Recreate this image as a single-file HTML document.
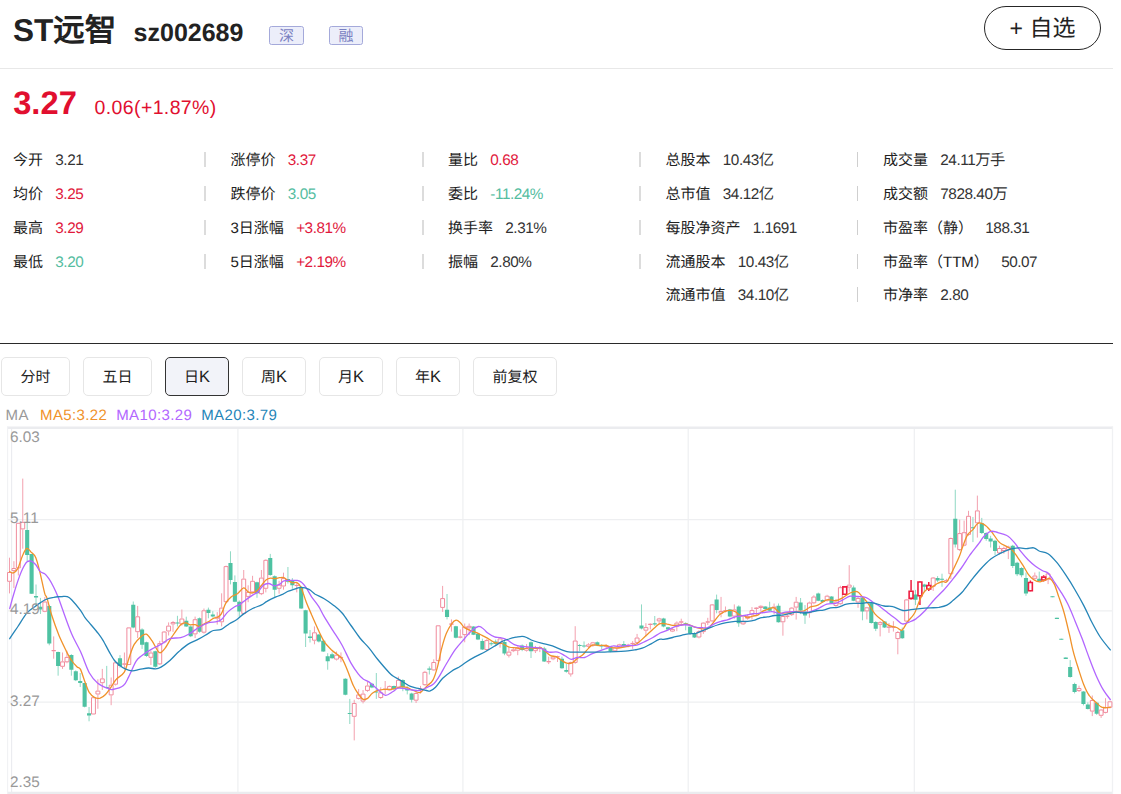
<!DOCTYPE html>
<html lang="zh-CN">
<head>
<meta charset="utf-8">
<title>ST远智 sz002689</title>
<style>
*{margin:0;padding:0;box-sizing:border-box;}
html,body{width:1121px;height:794px;background:#fff;overflow:hidden;}
body{font-family:"Liberation Sans",sans-serif;color:#222;position:relative;text-rendering:geometricPrecision;}
.abs{position:absolute;white-space:nowrap;}
.title{left:13px;top:13.4px;font-size:31.5px;line-height:34px;font-weight:bold;color:#222;}
.code{left:133.6px;top:18.6px;font-size:25px;line-height:28px;font-weight:bold;color:#222;}
.tag{top:26px;height:19px;width:35px;border:1px solid #a4a9da;background:#eceefa;border-radius:2.5px;color:#7b82c2;font-size:15px;line-height:19px;text-align:center;}
.fav{left:984px;top:6px;width:117px;height:44px;border:1px solid #262626;border-radius:22px;font-size:23px;line-height:42px;text-align:center;color:#222;}
.hr1{left:0;top:68px;width:1113px;height:1px;background:#e8e8e8;}
.price{left:13.2px;top:84.8px;font-size:32.7px;line-height:36px;font-weight:bold;color:#e10f2f;}
.chg{left:94.6px;top:96px;font-size:19.5px;letter-spacing:0.37px;line-height:24px;color:#e10f2f;}
.st{font-size:15px;line-height:20px;color:#222;}
.st b{font-weight:normal;margin-left:12.3px;font-size:15.3px;letter-spacing:-0.45px;color:#333;}
.st b.r{color:#e1193c;}
.st b.g{color:#55bd9f;}
.sep{width:1px;height:15px;background:#cfcfcf;}
.sep.w2{width:2px;background:#dcdcdc;}
.hr2{left:0;top:342.6px;width:1113px;height:1.3px;background:#2a2a2a;}
.tab{top:357px;height:39px;border:1px solid #e6e6e6;border-radius:5px;font-size:15px;line-height:38.6px;text-align:center;color:#222;background:#fff;}
.tab.on{border-color:#333;background:#f2f3f9;}
.tab i{font-style:normal;font-size:16.5px;}
.tab.c{line-height:40.6px;}
.ma{top:406px;font-size:15px;letter-spacing:0.38px;line-height:20px;}
svg.chart{position:absolute;left:0;top:420px;font-family:"Liberation Sans",sans-serif;}
</style>
</head>
<body>
<div class="abs title">ST远智</div>
<div class="abs code">sz002689</div>
<div class="abs tag" style="left:269px">深</div>
<div class="abs tag" style="left:329px;width:34px">融</div>
<div class="abs fav">+ 自选</div>
<div class="abs hr1"></div>
<div class="abs price">3.27</div>
<div class="abs chg">0.06(+1.87%)</div>

<!-- column 1 -->
<div class="abs st" style="left:13px;top:151.4px">今开<b>3.21</b></div>
<div class="abs st" style="left:13px;top:184.7px">均价<b class="r">3.25</b></div>
<div class="abs st" style="left:13px;top:218.9px">最高<b class="r">3.29</b></div>
<div class="abs st" style="left:13px;top:252.7px">最低<b class="g">3.20</b></div>
<!-- column 2 -->
<div class="abs sep w2" style="left:204px;top:152px"></div>
<div class="abs sep w2" style="left:204px;top:186px"></div>
<div class="abs sep w2" style="left:204px;top:220px"></div>
<div class="abs sep w2" style="left:204px;top:254px"></div>
<div class="abs st" style="left:230.5px;top:151.4px">涨停价<b class="r">3.37</b></div>
<div class="abs st" style="left:230.5px;top:184.7px">跌停价<b class="g">3.05</b></div>
<div class="abs st" style="left:230.5px;top:218.9px">3日涨幅<b class="r">+3.81%</b></div>
<div class="abs st" style="left:230.5px;top:252.7px">5日涨幅<b class="r">+2.19%</b></div>
<!-- column 3 -->
<div class="abs sep w2" style="left:422px;top:152px"></div>
<div class="abs sep w2" style="left:422px;top:186px"></div>
<div class="abs sep w2" style="left:422px;top:220px"></div>
<div class="abs sep w2" style="left:422px;top:254px"></div>
<div class="abs st" style="left:448px;top:151.4px">量比<b class="r">0.68</b></div>
<div class="abs st" style="left:448px;top:184.7px">委比<b class="g">-11.24%</b></div>
<div class="abs st" style="left:448px;top:218.9px">换手率<b>2.31%</b></div>
<div class="abs st" style="left:448px;top:252.7px">振幅<b>2.80%</b></div>
<!-- column 4 -->
<div class="abs sep w2" style="left:639px;top:152px"></div>
<div class="abs sep w2" style="left:639px;top:186px"></div>
<div class="abs sep w2" style="left:639px;top:220px"></div>
<div class="abs sep w2" style="left:639px;top:254px"></div>
<div class="abs st" style="left:665.5px;top:151.4px">总股本<b>10.43亿</b></div>
<div class="abs st" style="left:665.5px;top:184.7px">总市值<b>34.12亿</b></div>
<div class="abs st" style="left:665.5px;top:218.9px">每股净资产<b>1.1691</b></div>
<div class="abs st" style="left:665.5px;top:252.7px">流通股本<b>10.43亿</b></div>
<div class="abs st" style="left:665.5px;top:285.8px">流通市值<b>34.10亿</b></div>
<!-- column 5 -->
<div class="abs sep" style="left:857px;top:152px"></div>
<div class="abs sep" style="left:857px;top:186px"></div>
<div class="abs sep" style="left:857px;top:220px"></div>
<div class="abs sep" style="left:857px;top:254px"></div>
<div class="abs sep" style="left:857px;top:287px"></div>
<div class="abs st" style="left:883px;top:151.4px">成交量<b>24.11万手</b></div>
<div class="abs st" style="left:883px;top:184.7px">成交额<b>7828.40万</b></div>
<div class="abs st" style="left:883px;top:218.9px">市盈率（静）<b>188.31</b></div>
<div class="abs st" style="left:883px;top:252.7px">市盈率（TTM）<b>50.07</b></div>
<div class="abs st" style="left:883px;top:285.8px">市净率<b>2.80</b></div>

<div class="abs hr2"></div>
<div class="abs tab c" style="left:1px;width:69px">分时</div>
<div class="abs tab c" style="left:83px;width:69px">五日</div>
<div class="abs tab on" style="left:165px;width:64px">日<i>K</i></div>
<div class="abs tab" style="left:242px;width:64px">周<i>K</i></div>
<div class="abs tab" style="left:319px;width:64px">月<i>K</i></div>
<div class="abs tab" style="left:396px;width:64px">年<i>K</i></div>
<div class="abs tab c" style="left:473px;width:84px">前复权</div>

<div class="abs ma" style="left:5.5px;color:#999">MA</div>
<div class="abs ma" style="left:40px;color:#f0922a">MA5:3.22</div>
<div class="abs ma" style="left:116.2px;color:#b266ff">MA10:3.29</div>
<div class="abs ma" style="left:201.2px;color:#2585b8">MA20:3.79</div>

<svg class="chart" width="1121" height="374" viewBox="0 0 1121 374">
<g fill="none" stroke="#eeeff1" stroke-width="1.2">
<path d="M7,99.7H1113"/>
<path d="M7,190.9H1113"/>
<path d="M7,282.2H1113"/>
<path d="M237.9,8V374"/>
<path d="M462.9,8V374"/>
<path d="M688.2,8V374"/>
<path d="M914.3,8V374"/>
</g>
<path d="M7,7.70H1113" stroke="#ebecef" stroke-width="2.6" fill="none"/>
<path d="M7,373.00H1113" stroke="#ebecef" stroke-width="2.6" fill="none"/>
<path d="M7.6,6.40V374.30" stroke="#f1f2f4" stroke-width="1.1" fill="none"/>
<path d="M1112.5,6.40V374.30" stroke="#f0f1f3" stroke-width="1.3" fill="none"/>
<path d="M11.6,8.0V372.0" stroke="#eaecf0" stroke-width="1.1" fill="none"/>
<path d="M27.18,102.8V141.2M31.60,134.1V173.8M36.02,164.5V186.0M40.44,177.9V194.0M49.28,185.0V225.3M58.11,231.6V255.7M71.37,234.2V255.7M75.79,250.3V261.1M80.21,253.0V267.0M84.63,262.9V287.4M89.05,287.0V301.3M106.73,245.9V268.2M119.99,235.1V247.7M133.25,181.5V208.3M142.09,208.3V228.9M146.50,221.7V236.9M155.34,230.7V247.7M177.44,195.8V206.5M186.28,196.7V206.9M190.70,205.5V217.1M199.54,197.5V212.7M208.38,187.6V198.3M212.80,191.2V197.5M230.48,131.3V164.4M234.89,155.4V182.2M239.31,180.5V196.6M256.99,161.7V177.8M270.25,133.9V155.8M274.67,155.4V176.9M287.93,147.0V163.5M292.35,158.1V168.8M301.19,166.1V188.9M305.61,189.8V227.0M310.03,210.0V222.5M318.87,214.1V222.5M323.28,219.8V232.0M327.70,233.2V249.7M332.12,232.4V238.7M345.38,258.3V275.3M349.80,278.9V304.0M371.90,262.8V268.2M376.32,253.0V278.9M394.00,265.5V270.0M402.84,259.2V271.2M407.25,266.4V274.4M411.67,272.7V282.5M429.35,246.4V254.5M447.03,174.0V199.4M455.87,205.8V218.4M473.55,206.2V215.1M477.97,213.0V220.1M482.39,218.7V230.0M491.23,221.4V225.9M495.65,219.6V225.0M504.48,219.6V235.2M522.16,224.4V231.2M531.00,221.4V238.0M544.26,226.8V242.0M561.94,236.6V248.8M566.36,243.8V252.7M579.62,224.1V231.2M584.04,221.4V227.7M597.29,221.4V226.2M601.71,224.1V229.4M610.55,225.9V232.2M623.81,221.1V227.0M641.49,184.4V209.4M654.75,196.0V205.9M663.59,197.8V207.3M668.01,206.8V210.3M685.68,202.3V210.3M690.10,205.0V214.8M694.52,212.1V218.0M716.62,174.6V193.3M729.88,188.9V197.3M738.72,185.3V206.8M765.23,186.2V190.7M769.65,181.7V191.6M778.49,183.5V202.6M800.59,178.0V194.1M805.01,185.1V203.9M818.27,172.6V181.2M822.69,179.4V182.5M831.53,176.2V183.7M853.62,165.5V181.2M862.46,176.2V200.3M871.30,182.5V203.6M875.72,201.2V211.1M884.56,201.2V208.0M902.24,207.5V218.8M915.50,169.9V185.1M924.34,163.8V171.6M937.60,156.1V162.0M942.01,153.7V166.8M955.27,69.7V127.5M972.95,97.0V122.1M981.79,97.9V114.0M986.21,112.2V120.8M990.63,115.8V127.5M995.05,119.8V135.1M1012.73,124.8V148.0M1017.15,141.8V156.1M1021.57,147.1V157.3M1025.99,152.5V175.8M1039.24,151.6V161.4M1052.50,176.3V177.2M1056.92,197.7V199.0M1061.34,218.7V219.7M1065.76,237.4V238.9M1070.18,240.1V257.7M1074.60,262.7V273.4M1083.44,271.1V285.4M1087.86,282.3V289.5M1096.70,281.8V294.9" stroke="#8fd9c4" stroke-width="1" fill="none"/>
<path d="M25.13,109.9h4.10V135.0h-4.10zM29.55,134.1h4.10V173.8h-4.10zM33.97,176.1h4.10V177.4h-4.10zM38.39,186.8h4.10V189.5h-4.10zM47.23,185.9h4.10V223.5h-4.10zM56.06,231.9h4.10V245.9h-4.10zM69.32,235.1h4.10V249.8h-4.10zM73.74,251.2h4.10V260.2h-4.10zM78.16,261.1h4.10V262.9h-4.10zM82.58,262.9h4.10V286.7h-4.10zM87.00,293.3h4.10V295.4h-4.10zM104.68,267.0h4.10V268.0h-4.10zM117.94,238.2h4.10V245.9h-4.10zM131.20,184.7h4.10V207.4h-4.10zM140.04,209.6h4.10V224.8h-4.10zM144.45,222.3h4.10V236.0h-4.10zM153.29,231.2h4.10V246.8h-4.10zM175.39,202.4h4.10V203.5h-4.10zM184.23,200.8h4.10V206.5h-4.10zM188.65,206.4h4.10V216.2h-4.10zM197.49,198.3h4.10V211.8h-4.10zM206.33,189.8h4.10V193.0h-4.10zM210.75,194.4h4.10V196.6h-4.10zM228.43,142.9h4.10V159.9h-4.10zM232.84,162.0h4.10V181.7h-4.10zM237.26,181.7h4.10V191.5h-4.10zM254.94,162.2h4.10V173.3h-4.10zM268.20,137.9h4.10V155.1h-4.10zM272.62,156.3h4.10V169.7h-4.10zM285.88,159.0h4.10V161.7h-4.10zM290.30,160.8h4.10V165.3h-4.10zM299.14,167.0h4.10V188.5h-4.10zM303.56,190.3h4.10V213.6h-4.10zM307.98,216.6h4.10V218.0h-4.10zM316.81,214.4h4.10V221.6h-4.10zM321.23,220.7h4.10V231.4h-4.10zM325.65,236.3h4.10V241.3h-4.10zM330.07,234.2h4.10V238.3h-4.10zM343.33,258.7h4.10V274.8h-4.10zM347.75,292.9h4.10V293.9h-4.10zM369.85,263.7h4.10V267.6h-4.10zM374.27,271.4h4.10V272.5h-4.10zM391.95,265.9h4.10V269.1h-4.10zM400.79,260.1h4.10V267.3h-4.10zM405.20,269.1h4.10V270.5h-4.10zM409.62,273.6h4.10V279.8h-4.10zM427.30,248.6h4.10V249.7h-4.10zM444.98,189.7h4.10V196.9h-4.10zM453.82,206.2h4.10V217.8h-4.10zM471.50,206.5h4.10V214.8h-4.10zM475.92,213.7h4.10V219.6h-4.10zM480.34,221.0h4.10V229.4h-4.10zM489.18,223.2h4.10V224.2h-4.10zM493.60,221.4h4.10V224.1h-4.10zM502.43,221.9h4.10V233.4h-4.10zM520.11,225.5h4.10V230.0h-4.10zM528.95,222.3h4.10V231.2h-4.10zM542.21,228.6h4.10V241.4h-4.10zM559.89,238.7h4.10V248.2h-4.10zM564.31,250.0h4.10V251.8h-4.10zM577.57,225.0h4.10V226.0h-4.10zM581.99,225.5h4.10V226.6h-4.10zM595.24,222.3h4.10V225.5h-4.10zM599.66,225.5h4.10V226.5h-4.10zM608.50,226.8h4.10V231.6h-4.10zM621.76,224.1h4.10V226.4h-4.10zM639.44,205.5h4.10V208.6h-4.10zM652.70,203.2h4.10V204.4h-4.10zM661.54,198.4h4.10V206.4h-4.10zM665.96,207.3h4.10V209.4h-4.10zM683.63,203.2h4.10V205.0h-4.10zM688.05,206.8h4.10V213.4h-4.10zM692.47,213.4h4.10V217.5h-4.10zM714.57,179.4h4.10V190.1h-4.10zM727.83,189.4h4.10V196.6h-4.10zM736.67,186.5h4.10V203.2h-4.10zM763.18,186.5h4.10V188.9h-4.10zM767.60,187.6h4.10V190.7h-4.10zM776.44,185.8h4.10V202.3h-4.10zM798.54,182.5h4.10V190.5h-4.10zM802.96,191.4h4.10V195.5h-4.10zM816.22,173.5h4.10V180.7h-4.10zM820.64,180.1h4.10V181.9h-4.10zM829.48,176.5h4.10V183.3h-4.10zM851.57,167.6h4.10V180.7h-4.10zM860.41,177.6h4.10V191.4h-4.10zM869.25,183.3h4.10V203.0h-4.10zM873.67,202.1h4.10V208.7h-4.10zM882.51,201.6h4.10V207.5h-4.10zM900.19,210.2h4.10V218.2h-4.10zM913.45,174.4h4.10V179.8h-4.10zM922.29,164.5h4.10V166.8h-4.10zM935.54,157.9h4.10V160.5h-4.10zM939.96,158.8h4.10V159.8h-4.10zM953.22,98.8h4.10V124.4h-4.10zM970.90,107.2h4.10V108.2h-4.10zM979.74,103.3h4.10V113.1h-4.10zM984.16,113.1h4.10V119.0h-4.10zM988.58,118.5h4.10V121.5h-4.10zM993.00,120.8h4.10V131.0h-4.10zM1010.68,125.7h4.10V145.9h-4.10zM1015.10,142.7h4.10V154.3h-4.10zM1019.52,148.0h4.10V155.2h-4.10zM1023.94,157.9h4.10V173.4h-4.10zM1037.19,158.8h4.10V160.9h-4.10zM1050.45,176.3h4.10V177.3h-4.10zM1054.87,197.7h4.10V199.0h-4.10zM1059.29,218.7h4.10V219.7h-4.10zM1063.71,237.4h4.10V238.9h-4.10zM1068.13,246.9h4.10V257.1h-4.10zM1072.55,263.9h4.10V272.0h-4.10zM1081.39,271.6h4.10V284.0h-4.10zM1085.81,284.5h4.10V289.0h-4.10zM1094.65,282.7h4.10V293.8h-4.10z" fill="#4ec2a2"/>
<path d="M9.50,137.7V152.0M9.50,161.8V173.4M13.92,141.2V148.0M13.92,151.1V168.1M18.34,148.4V155.5M22.76,58.6V101.9M22.76,109.4V128.7M44.86,177.0V181.5M44.86,191.8V192.2M53.70,216.4V230.1M53.70,231.2V238.7M62.53,232.5V241.4M62.53,246.8V248.9M66.95,230.7V236.9M66.95,242.3V243.2M97.89,259.3V270.6M97.89,274.5V288.8M102.31,248.9V258.4M102.31,263.2V270.0M111.15,257.5V264.7M111.15,275.4V285.2M115.57,264.7V265.5M124.41,232.5V243.5M124.41,244.6V249.4M137.67,185.9V196.3M137.67,212.2V218.1M150.92,230.7V232.5M150.92,237.8V245.0M159.76,220.8V223.1M159.76,244.4V245.0M164.18,211.0V211.5M164.18,222.6V223.5M168.60,202.4V205.6M168.60,211.5V215.5M173.02,201.1V202.0M173.02,204.4V211.9M181.86,189.5V198.5M181.86,204.4V205.6M195.12,196.6V199.2M195.12,214.4V218.0M203.96,188.5V190.3M203.96,212.7V213.6M217.22,192.1V196.6M217.22,198.7V204.6M221.64,173.3V187.6M221.64,202.3V206.4M226.06,145.6V146.1M226.06,182.2V183.1M243.73,150.0V158.6M243.73,193.9V194.8M248.15,165.3V171.9M248.15,176.9V182.2M252.57,155.8V160.8M252.57,172.4V173.3M261.41,150.0V157.6M261.41,174.2V175.1M265.83,139.3V139.8M265.83,168.8V172.4M279.09,160.8V164.7M279.09,168.8V173.7M283.51,152.7V158.1M283.51,166.5V169.7M296.77,162.6V164.9M296.77,166.0V172.4M314.45,206.4V212.3M314.45,220.7V224.3M336.54,231.5V234.7M336.54,239.6V240.5M340.96,232.4V236.9M340.96,238.1V242.2M354.22,279.8V283.0M354.22,296.8V320.4M358.64,269.1V274.4M358.64,278.9V279.5M363.06,270.0V273.6M363.06,281.6V283.4M367.48,261.9V265.5M367.48,270.9V271.8M380.74,267.3V272.3M380.74,278.0V278.9M385.16,261.0V268.7M385.16,269.8V274.4M389.58,265.5V265.9M389.58,270.5V270.9M398.42,256.6V259.8M398.42,267.6V268.2M416.09,271.8V273.0M416.09,280.7V283.0M420.51,265.9V268.5M420.51,269.6V273.6M424.93,250.9V251.8M424.93,265.2V265.8M433.77,239.3V242.0M433.77,250.4V250.9M438.19,241.1V241.6M442.61,165.9V178.1M442.61,187.9V191.9M451.45,199.4V203.5M451.45,204.6V211.6M460.29,209.4V216.6M460.29,217.6V218.4M464.71,203.5V206.5M464.71,215.1V222.3M469.13,203.5V205.8M469.13,208.3V215.1M486.81,219.2V220.1M486.81,230.0V231.2M500.06,217.3V218.4M500.06,223.7V227.7M508.90,226.8V231.6M508.90,235.7V237.5M513.32,227.7V229.4M513.32,231.2V232.1M517.74,226.4V227.1M517.74,230.7V235.2M526.58,224.1V228.0M526.58,230.7V231.6M535.42,225.9V227.1M535.42,231.2V233.0M539.84,225.9V227.3M539.84,228.3V232.1M548.68,236.6V241.1M548.68,242.3V244.1M553.10,235.7V236.6M553.10,239.3V240.2M557.52,235.7V236.2M557.52,237.2V242.0M570.78,241.6V242.0M570.78,254.5V256.6M575.20,206.2V220.5M575.20,242.9V243.8M588.45,223.2V224.4M588.45,226.8V227.7M592.87,221.9V222.3M592.87,225.9V226.8M606.13,224.1V225.5M606.13,226.8V228.6M614.97,226.4V227.3M614.97,231.3V231.8M619.39,223.8V224.3M619.39,227.9V228.2M628.23,223.8V224.7M628.23,226.4V227.3M632.65,221.1V222.9M632.65,224.1V228.8M637.07,213.9V217.5M637.07,222.9V223.8M645.91,203.2V207.1M645.91,210.7V216.6M650.33,203.2V203.7M650.33,205.0V209.4M659.17,197.8V198.4M659.17,201.4V204.1M672.43,207.7V208.9M672.43,211.6V212.1M676.84,201.4V202.6M676.84,206.8V211.2M681.26,198.7V201.4M681.26,202.6V205.0M698.94,210.3V211.2M698.94,217.5V218.4M703.36,202.3V202.6M703.36,212.1V213.9M707.78,197.8V201.4M707.78,202.6V205.0M712.20,184.0V184.4M712.20,201.4V202.3M721.04,176.9V191.0M721.04,193.7V197.3M725.46,186.5V190.3M725.46,191.3V192.5M734.30,184.4V189.4M734.30,196.6V198.7M743.14,196.9V201.4M743.14,204.4V205.0M747.56,194.2V196.0M747.56,198.7V199.6M751.98,187.1V190.1M751.98,194.8V199.6M756.40,187.1V187.6M756.40,188.9V195.1M760.82,185.3V185.8M760.82,188.0V191.6M774.07,183.5V186.5M774.07,188.3V194.2M782.91,195.1V196.0M782.91,202.3V215.7M787.33,194.2V195.7M787.33,196.7V198.7M791.75,187.1V187.6M791.75,195.1V196.0M796.17,176.9V181.7M796.17,187.6V199.6M809.43,181.6V182.5M809.43,193.2V197.7M813.85,175.3V176.5M813.85,183.3V184.2M827.11,174.8V175.7M827.11,180.7V181.6M835.95,178.9V181.6M835.95,186.0V186.9M840.37,165.8V167.2M840.37,184.2V184.8M849.21,145.2V164.6M849.21,167.6V171.7M858.04,177.1V178.0M858.04,182.5V187.8M866.88,186.9V187.3M866.88,191.4V199.4M880.14,201.2V202.1M880.14,204.8V216.4M888.98,203.0V206.6M888.98,207.7V212.9M893.40,201.2V206.6M893.40,207.7V211.6M897.82,211.1V212.0M897.82,219.1V234.3M906.66,178.9V179.4M906.66,201.6V202.1M933.18,157.0V157.5M933.18,166.8V170.9M946.43,158.8V160.2M946.43,161.2V162.3M950.85,117.6V118.0M950.85,154.3V159.1M959.69,99.7V113.1M959.69,130.1V131.0M964.11,100.6V112.2M964.11,125.7V126.2M968.53,90.8V95.8M968.53,114.9V115.8M977.37,75.6V90.4M977.37,103.3V117.6M999.47,125.7V128.0M999.47,133.4V134.6M1003.89,126.6V128.0M1003.89,131.0V133.7M1008.31,125.7V126.6M1008.31,130.1V139.1M1034.82,152.5V155.5M1034.82,158.8V160.5M1048.08,152.5V153.4M1048.08,159.7V164.1M1079.02,265.7V268.0M1079.02,271.1V272.0M1092.28,275.5V280.0M1092.28,291.6V296.1M1101.12,289.0V289.5M1101.12,295.8V297.9M1105.54,278.2V287.2M1105.54,292.9V293.4M1109.96,280.6V281.3M1109.96,287.7V288.4" stroke="#f3a0ae" stroke-width="1" fill="none"/>
<path d="M7.55,152.5h3.90V161.3h-3.90zM11.97,148.5h3.90V150.6h-3.90zM16.39,103.3h3.90V147.9h-3.90zM20.81,102.4h3.90V108.9h-3.90zM42.91,182.0h3.90V191.3h-3.90zM51.74,230.6h3.90V230.7h-3.90zM60.58,241.9h3.90V246.3h-3.90zM65.00,237.4h3.90V241.8h-3.90zM91.52,277.7h3.90V294.0h-3.90zM95.94,271.1h3.90V274.0h-3.90zM100.36,258.9h3.90V262.7h-3.90zM109.20,265.2h3.90V274.9h-3.90zM113.62,242.8h3.90V264.2h-3.90zM122.46,244.0h3.90V244.1h-3.90zM126.88,207.9h3.90V244.5h-3.90zM135.72,196.8h3.90V211.7h-3.90zM148.97,233.0h3.90V237.3h-3.90zM157.81,223.6h3.90V243.9h-3.90zM162.23,212.0h3.90V222.1h-3.90zM166.65,206.1h3.90V211.0h-3.90zM171.07,202.5h3.90V203.9h-3.90zM179.91,199.0h3.90V203.9h-3.90zM193.17,199.7h3.90V213.9h-3.90zM202.01,190.8h3.90V212.2h-3.90zM215.27,197.1h3.90V198.2h-3.90zM219.69,188.1h3.90V201.8h-3.90zM224.11,146.6h3.90V181.7h-3.90zM241.78,159.1h3.90V193.4h-3.90zM246.20,172.4h3.90V176.4h-3.90zM250.62,161.3h3.90V171.9h-3.90zM259.46,158.1h3.90V173.7h-3.90zM263.88,140.3h3.90V168.3h-3.90zM277.14,165.2h3.90V168.3h-3.90zM281.56,158.6h3.90V166.0h-3.90zM294.82,165.4h3.90V165.5h-3.90zM312.50,212.8h3.90V220.2h-3.90zM334.59,235.2h3.90V239.1h-3.90zM339.01,237.4h3.90V237.6h-3.90zM352.27,283.5h3.90V296.3h-3.90zM356.69,274.9h3.90V278.4h-3.90zM361.11,274.1h3.90V281.1h-3.90zM365.53,266.0h3.90V270.4h-3.90zM378.79,272.8h3.90V277.5h-3.90zM383.21,269.2h3.90V269.3h-3.90zM387.63,266.4h3.90V270.0h-3.90zM396.47,260.3h3.90V267.1h-3.90zM414.14,273.5h3.90V280.2h-3.90zM418.56,269.0h3.90V269.1h-3.90zM422.98,252.3h3.90V264.7h-3.90zM431.82,242.5h3.90V249.9h-3.90zM436.24,205.8h3.90V240.6h-3.90zM440.66,178.6h3.90V187.4h-3.90zM449.50,204.0h3.90V204.1h-3.90zM458.34,217.1h3.90V217.1h-3.90zM462.76,207.0h3.90V214.6h-3.90zM467.18,206.3h3.90V207.8h-3.90zM484.86,220.6h3.90V229.5h-3.90zM498.11,218.9h3.90V223.2h-3.90zM506.95,232.1h3.90V235.2h-3.90zM511.37,229.9h3.90V230.7h-3.90zM515.79,227.6h3.90V230.2h-3.90zM524.63,228.5h3.90V230.2h-3.90zM533.47,227.6h3.90V230.7h-3.90zM537.89,227.8h3.90V227.8h-3.90zM546.73,241.6h3.90V241.8h-3.90zM551.15,237.1h3.90V238.8h-3.90zM555.57,236.7h3.90V236.7h-3.90zM568.83,242.5h3.90V254.0h-3.90zM573.25,221.0h3.90V242.4h-3.90zM586.50,224.9h3.90V226.3h-3.90zM590.92,222.8h3.90V225.4h-3.90zM604.18,226.0h3.90V226.3h-3.90zM613.02,227.8h3.90V230.8h-3.90zM617.44,224.8h3.90V227.4h-3.90zM626.28,225.2h3.90V225.9h-3.90zM630.70,223.4h3.90V223.6h-3.90zM635.12,218.0h3.90V222.4h-3.90zM643.96,207.6h3.90V210.2h-3.90zM648.38,204.2h3.90V204.5h-3.90zM657.22,198.9h3.90V200.9h-3.90zM670.48,209.4h3.90V211.1h-3.90zM674.89,203.1h3.90V206.3h-3.90zM679.31,201.9h3.90V202.1h-3.90zM696.99,211.7h3.90V217.0h-3.90zM701.41,203.1h3.90V211.6h-3.90zM705.83,201.9h3.90V202.1h-3.90zM710.25,184.9h3.90V200.9h-3.90zM719.09,191.5h3.90V193.2h-3.90zM723.51,190.8h3.90V190.8h-3.90zM732.35,189.9h3.90V196.1h-3.90zM741.19,201.9h3.90V203.9h-3.90zM745.61,196.5h3.90V198.2h-3.90zM750.03,190.6h3.90V194.3h-3.90zM754.45,188.1h3.90V188.4h-3.90zM758.87,186.3h3.90V187.5h-3.90zM772.12,187.0h3.90V187.8h-3.90zM780.96,196.5h3.90V201.8h-3.90zM785.38,196.2h3.90V196.2h-3.90zM789.80,188.1h3.90V194.6h-3.90zM794.22,182.2h3.90V187.1h-3.90zM807.48,183.0h3.90V192.7h-3.90zM811.90,177.0h3.90V182.8h-3.90zM825.16,176.2h3.90V180.2h-3.90zM834.00,182.1h3.90V185.5h-3.90zM838.42,167.7h3.90V183.7h-3.90zM847.25,165.1h3.90V167.1h-3.90zM856.09,178.5h3.90V182.0h-3.90zM864.93,187.8h3.90V190.9h-3.90zM878.19,202.6h3.90V204.3h-3.90zM887.03,207.1h3.90V207.2h-3.90zM891.45,207.1h3.90V207.2h-3.90zM895.87,212.5h3.90V218.6h-3.90zM904.71,179.9h3.90V201.1h-3.90zM931.23,158.0h3.90V166.3h-3.90zM944.48,160.7h3.90V160.7h-3.90zM948.90,118.5h3.90V153.8h-3.90zM957.74,113.6h3.90V129.6h-3.90zM962.16,112.7h3.90V125.2h-3.90zM966.58,96.3h3.90V114.4h-3.90zM975.42,90.9h3.90V102.8h-3.90zM997.52,128.5h3.90V132.9h-3.90zM1001.94,128.5h3.90V130.5h-3.90zM1006.36,127.1h3.90V129.6h-3.90zM1032.87,156.0h3.90V158.3h-3.90zM1046.13,153.9h3.90V159.2h-3.90zM1077.07,268.5h3.90V270.6h-3.90zM1090.33,280.5h3.90V291.1h-3.90zM1099.17,290.0h3.90V295.3h-3.90zM1103.59,287.7h3.90V292.4h-3.90zM1108.01,281.8h3.90V287.2h-3.90z" stroke="#f08b9d" stroke-width="1" fill="#fff"/>
<path d="M911.08,160.1V170.8M911.08,178.9V179.4M919.92,161.0V161.5M919.92,176.2V185.1M928.76,162.0V165.0M928.76,169.5V170.9M1030.40,160.5V162.0M1030.40,171.3V171.6M1043.66,155.2V156.6M1043.66,160.5V161.4" stroke="#ee1c40" stroke-width="1.5" fill="none"/>
<path d="M842.84,166.9h3.90V174.3h-3.90zM909.13,171.3h3.90V178.4h-3.90zM917.97,162.0h3.90V175.7h-3.90zM926.81,165.5h3.90V169.0h-3.90zM1028.45,162.5h3.90V170.8h-3.90zM1041.71,157.1h3.90V160.0h-3.90z" stroke="#ee1c40" stroke-width="1.6" fill="#fff"/>
<path d="M9.7,151.6C10.3,151.8 12.0,153.4 13.4,152.9C14.8,152.3 16.4,151.2 17.9,148.4C19.4,145.6 20.9,139.2 22.4,135.9C23.9,132.5 25.3,129.0 26.8,128.4C28.3,127.8 29.8,130.7 31.3,132.3C32.8,133.8 34.3,134.1 35.8,137.7C37.3,141.2 38.8,147.8 40.3,153.8C41.7,159.7 43.6,169.4 44.7,173.4C45.8,177.5 45.7,174.2 46.9,177.9C48.1,181.6 49.9,189.5 51.9,195.8C53.9,202.0 56.6,209.5 59.0,215.5C61.5,221.4 64.5,227.4 66.5,231.6C68.6,235.7 69.8,238.0 71.6,240.5C73.3,243.0 75.4,245.3 76.9,246.8C78.4,248.3 79.2,246.9 80.5,249.4C81.8,252.0 83.5,258.1 85.0,262.0C86.5,265.8 87.8,270.1 89.4,272.7C91.1,275.3 93.0,276.8 94.8,277.7C96.6,278.6 98.4,278.6 100.2,278.1C102.0,277.5 103.8,276.3 105.5,274.5C107.3,272.7 109.1,269.9 110.9,267.3C112.7,264.8 114.0,261.8 116.3,259.3C118.5,256.8 122.2,255.6 124.3,252.1C126.4,248.7 127.2,243.3 128.8,238.7C130.4,234.1 132.1,228.1 134.2,224.4C136.3,220.7 139.3,218.1 141.3,216.4C143.4,214.7 144.5,213.5 146.3,214.2C148.1,214.9 149.9,217.8 152.1,220.8C154.2,223.9 157.1,231.1 159.2,232.5C161.3,233.8 162.5,231.4 164.6,228.9C166.7,226.3 169.1,221.3 171.7,217.2C174.4,213.2 178.3,207.1 180.7,204.7C183.1,202.3 184.6,202.9 186.0,202.9C187.5,202.9 188.1,204.4 189.6,204.7C191.1,205.0 193.3,204.4 195.0,204.7C196.7,205.0 198.3,206.6 199.8,206.4C201.4,206.2 202.8,204.5 204.3,203.7C205.8,202.9 207.3,202.5 208.8,201.6C210.3,200.7 211.9,199.0 213.3,198.3C214.6,197.7 215.5,198.2 216.8,197.5C218.2,196.7 219.8,196.3 221.3,193.9C222.8,191.5 224.1,186.0 225.8,183.1C227.4,180.3 229.2,178.5 231.1,176.9C233.1,175.3 235.3,175.1 237.4,173.7C239.5,172.2 241.9,168.2 243.7,167.9C245.5,167.6 246.6,171.0 248.1,171.9C249.6,172.7 251.1,173.2 252.6,172.9C254.1,172.7 255.6,171.9 257.1,170.6C258.6,169.3 260.1,167.0 261.6,165.3C263.0,163.5 264.5,161.1 266.0,159.9C267.5,158.7 269.0,158.3 270.5,158.1C272.0,157.9 273.5,158.7 275.0,158.6C276.5,158.6 278.0,157.9 279.4,157.7C280.9,157.6 282.4,157.2 283.9,157.7C285.4,158.2 286.9,159.9 288.4,160.8C289.9,161.6 291.4,162.6 292.9,162.9C294.3,163.2 295.6,161.7 297.0,162.6C298.4,163.4 299.7,164.7 301.3,167.9C302.8,171.2 304.5,177.8 306.3,182.2C308.0,186.7 309.6,190.0 311.6,194.8C313.7,199.5 316.7,206.4 318.8,210.9C320.9,215.3 322.1,218.5 324.2,221.6C326.3,224.7 329.2,227.6 331.3,229.7C333.4,231.7 334.9,232.6 336.7,234.1C338.5,235.6 340.3,235.9 342.1,238.6C343.8,241.3 345.6,245.7 347.4,250.2C349.3,254.7 351.4,261.5 353.3,265.5C355.1,269.5 357.0,272.1 358.6,274.4C360.3,276.7 361.6,278.6 363.1,279.3C364.6,279.9 366.1,279.3 367.6,278.4C369.1,277.4 370.5,274.8 372.0,273.6C373.5,272.3 374.6,271.6 376.5,270.9C378.4,270.2 381.0,269.7 383.7,269.4C386.4,269.1 389.6,269.5 392.6,269.1C395.6,268.7 399.2,267.2 401.6,266.9C403.9,266.6 405.1,266.8 406.9,267.3C408.7,267.8 410.2,269.1 412.3,270.0C414.4,270.9 417.7,272.7 419.4,272.7C421.2,272.7 421.7,271.2 423.0,270.0C424.4,268.8 425.9,267.1 427.5,265.5C429.1,263.9 431.2,263.1 432.9,260.1C434.5,257.2 435.8,253.0 437.3,247.6C438.8,242.2 440.3,233.6 441.8,227.9C443.3,222.3 444.6,217.6 446.3,213.6C447.9,209.6 450.0,206.0 451.6,203.8C453.3,201.5 454.6,200.4 456.1,200.2C457.6,200.1 459.2,201.7 460.6,202.9C461.9,204.1 462.4,206.0 464.2,207.4C466.0,208.7 469.2,210.0 471.3,210.9C473.4,211.8 474.9,212.0 476.7,212.7C478.5,213.5 480.3,214.5 482.1,215.4C483.8,216.3 485.3,216.9 487.4,218.1C489.5,219.3 492.2,221.7 494.6,222.6C497.0,223.5 499.4,222.7 501.7,223.5C504.1,224.2 506.5,226.3 508.9,227.0C511.3,227.8 513.7,227.6 516.0,227.9C518.4,228.2 521.0,228.9 523.2,228.8C525.4,228.8 526.9,227.7 529.1,227.7C531.3,227.6 534.2,228.5 536.3,228.6C538.4,228.6 540.2,227.6 541.6,228.0C543.1,228.5 543.7,230.0 545.2,231.2C546.7,232.5 548.8,234.8 550.6,235.7C552.4,236.6 554.2,235.9 556.0,236.6C557.7,237.3 559.5,239.1 561.3,240.2C563.1,241.3 564.9,242.8 566.7,243.2C568.5,243.7 570.3,243.7 572.1,242.9C573.8,242.1 575.6,239.7 577.4,238.4C579.2,237.0 581.0,236.5 582.8,234.8C584.6,233.2 586.5,230.2 588.2,228.6C589.8,226.9 590.8,225.5 592.6,225.0C594.4,224.5 596.7,225.4 598.9,225.5C601.1,225.6 603.8,225.2 606.0,225.5C608.3,225.9 610.2,227.2 612.3,227.7C614.4,228.1 616.0,228.2 618.6,228.0C621.2,227.8 624.8,227.1 627.9,226.4C630.9,225.7 633.9,225.5 636.8,223.8C639.8,222.0 642.8,218.4 645.8,215.7C648.8,213.0 652.3,209.7 654.7,207.7C657.1,205.7 658.0,204.3 660.1,203.7C662.2,203.1 665.2,203.8 667.2,204.1C669.3,204.3 670.2,205.2 672.6,205.3C675.0,205.5 679.2,205.2 681.6,205.0C683.9,204.8 684.8,203.8 686.9,204.1C689.0,204.4 691.7,206.0 694.1,206.8C696.5,207.5 699.0,208.3 701.2,208.6C703.5,208.8 705.6,209.4 707.5,208.6C709.4,207.7 710.9,205.4 712.9,203.2C714.8,200.9 717.2,197.1 719.1,195.1C721.1,193.2 722.7,192.4 724.5,191.6C726.3,190.8 728.1,190.3 729.9,190.3C731.6,190.3 733.6,190.8 735.2,191.6C736.9,192.4 738.2,194.4 739.7,195.1C741.2,195.9 742.8,195.6 744.2,196.0C745.5,196.5 746.3,197.8 747.7,197.8C749.2,197.8 751.5,196.5 753.1,196.0C754.8,195.6 756.1,195.9 757.6,195.1C759.1,194.4 760.4,192.5 762.1,191.6C763.7,190.6 765.5,190.1 767.4,189.4C769.4,188.8 771.9,187.3 773.7,187.6C775.5,188.0 776.8,190.6 778.2,191.6C779.5,192.5 779.9,193.2 781.7,193.3C783.5,193.5 786.5,192.7 788.9,192.5C791.3,192.2 793.7,191.8 796.0,191.6C798.4,191.3 801.1,191.8 803.2,191.2C805.3,190.6 807.3,188.7 808.6,188.0C809.8,187.3 809.2,187.4 810.7,186.9C812.3,186.4 815.2,186.3 817.9,185.1C820.6,183.9 823.9,180.5 826.8,179.8C829.8,179.0 833.1,181.0 835.8,180.7C838.5,180.3 840.5,178.9 842.9,177.6C845.3,176.3 847.7,174.0 850.1,173.0C852.5,172.0 855.2,171.0 857.2,171.7C859.3,172.4 860.8,175.1 862.6,177.1C864.4,179.0 865.9,180.5 868.0,183.3C870.1,186.2 872.7,191.2 875.1,194.1C877.5,196.9 879.9,198.4 882.3,200.3C884.7,202.3 887.1,204.5 889.4,205.7C891.8,206.9 894.5,206.8 896.6,207.5C898.7,208.2 900.2,211.1 902.0,210.2C903.8,209.3 905.2,205.0 907.3,202.1C909.4,199.3 912.4,196.9 914.5,193.2C916.6,189.5 918.1,183.5 919.9,179.8C921.6,176.0 923.1,173.0 925.2,170.8C927.3,168.7 930.3,168.1 932.4,166.9C934.5,165.6 936.0,164.2 937.7,163.3C939.5,162.4 941.6,161.8 943.1,161.5C944.6,161.3 945.2,163.5 946.7,161.9C948.2,160.3 950.0,156.2 952.1,152.0C954.1,147.9 957.5,140.8 959.2,136.8C960.9,132.9 960.8,132.0 962.1,128.3C963.5,124.7 965.7,118.1 967.5,114.9C969.3,111.8 971.2,111.4 972.9,109.6C974.5,107.7 975.9,104.7 977.4,103.7C978.8,102.6 980.2,102.8 981.8,103.3C983.5,103.8 985.4,105.2 987.2,106.9C989.0,108.5 990.5,110.5 992.6,113.1C994.6,115.8 997.3,120.4 999.7,122.6C1002.1,124.9 1004.8,125.3 1006.9,126.6C1009.0,127.8 1010.4,128.3 1012.2,130.1C1014.0,131.9 1015.8,134.8 1017.6,137.3C1019.4,139.8 1021.2,142.5 1023.0,145.3C1024.8,148.2 1026.5,151.9 1028.3,154.3C1030.1,156.7 1031.8,158.4 1033.7,159.7C1035.6,160.9 1037.9,161.8 1040.0,161.8C1042.0,161.8 1044.6,160.2 1046.2,159.7C1047.9,159.1 1048.5,157.7 1049.8,158.4C1051.1,159.1 1052.8,161.1 1054.3,164.1C1055.8,167.2 1057.1,171.9 1058.7,176.6C1060.4,181.4 1062.3,186.4 1064.1,192.7C1065.9,199.1 1068.0,208.4 1069.5,214.7C1071.0,221.1 1071.6,225.2 1073.1,230.8C1074.5,236.5 1076.6,243.0 1078.4,248.7C1080.2,254.4 1082.0,260.3 1083.8,264.8C1085.6,269.3 1087.1,272.6 1089.2,275.5C1091.2,278.5 1094.2,280.8 1096.3,282.7C1098.4,284.6 1099.9,286.3 1101.7,287.2C1103.5,288.0 1105.6,287.7 1107.0,287.7C1108.5,287.7 1109.7,287.3 1110.3,287.2" fill="none" stroke="#f0922a" stroke-width="1.3" stroke-linejoin="round" stroke-linecap="round"/>
<path d="M9.7,188.6C10.3,186.4 12.0,179.8 13.4,175.2C14.8,170.6 16.4,165.2 17.9,160.9C19.4,156.6 20.9,152.4 22.4,149.3C23.9,146.2 25.3,143.5 26.8,142.1C28.3,140.8 29.8,140.8 31.3,141.2C32.8,141.7 34.3,143.1 35.8,144.8C37.3,146.5 38.8,150.1 40.3,151.6C41.7,153.1 43.2,152.5 44.7,153.8C46.2,155.0 47.7,156.9 49.2,159.1C50.7,161.4 52.2,164.2 53.7,167.2C55.2,170.2 56.6,173.3 58.1,177.0C59.6,180.7 60.4,183.4 62.6,189.5C64.8,195.6 68.6,206.7 71.6,213.7C74.5,220.7 77.5,225.0 80.5,231.6C83.5,238.1 86.6,247.8 89.4,253.0C92.3,258.2 94.5,260.3 97.5,262.9C100.5,265.4 104.8,267.1 107.3,268.2C109.9,269.3 110.0,269.9 112.7,269.5C115.4,269.0 120.8,267.7 123.4,265.5C126.1,263.4 126.7,260.6 128.8,256.6C130.9,252.6 133.9,244.8 136.0,241.4C138.0,238.0 138.6,238.1 141.3,236.0C144.0,233.9 148.8,230.8 152.1,228.9C155.3,226.9 158.0,226.1 161.0,224.4C164.0,222.7 166.7,219.8 169.9,218.7C173.2,217.5 177.4,218.4 180.7,217.6C184.0,216.8 186.6,215.4 189.6,213.7C192.7,211.9 195.9,209.1 198.9,207.3C202.0,205.5 204.9,203.8 207.9,202.8C210.9,201.9 214.5,202.2 216.8,201.6C219.2,201.0 220.1,200.8 221.8,199.2C223.6,197.7 225.4,194.2 227.6,192.1C229.7,190.0 232.8,187.9 234.7,186.7C236.7,185.5 237.7,185.8 239.2,184.9C240.7,184.0 241.4,183.0 243.7,181.4C245.9,179.7 250.2,176.7 252.6,175.1C255.0,173.5 256.2,173.5 258.0,171.9C259.8,170.2 261.6,166.7 263.3,165.3C265.1,163.8 266.9,163.4 268.7,163.5C270.5,163.6 272.3,165.6 274.1,165.8C275.9,165.9 277.8,165.2 279.4,164.4C281.1,163.5 282.1,161.4 283.9,160.8C285.7,160.1 287.9,160.5 290.2,160.4C292.4,160.4 295.4,160.1 297.3,160.4C299.3,160.8 300.3,161.3 301.8,162.6C303.3,163.8 304.6,165.5 306.3,167.9C307.9,170.3 309.6,173.7 311.6,176.9C313.7,180.0 316.7,183.4 318.8,186.7C320.9,190.0 321.8,192.5 324.2,196.6C326.6,200.6 330.1,206.1 333.1,210.9C336.1,215.6 339.1,219.8 342.1,225.2C345.0,230.5 348.3,238.3 351.0,243.1C353.7,247.8 356.1,251.1 358.2,253.8C360.2,256.5 361.7,257.8 363.5,259.2C365.3,260.5 366.4,260.1 368.9,261.9C371.4,263.7 375.5,267.7 378.3,270.0C381.1,272.2 383.1,275.0 385.5,275.3C387.8,275.6 390.5,273.0 392.6,271.8C394.7,270.6 395.9,268.7 398.0,268.2C400.1,267.7 402.7,268.4 405.1,268.7C407.5,269.0 409.9,269.7 412.3,270.0C414.7,270.3 417.1,270.9 419.4,270.5C421.8,270.1 424.2,268.8 426.6,267.6C429.0,266.5 431.7,265.6 433.8,263.7C435.8,261.9 437.0,259.8 439.1,256.6C441.2,253.3 443.6,248.5 446.3,244.0C449.0,239.6 452.2,233.9 455.2,229.7C458.2,225.5 461.5,222.1 464.2,219.0C466.9,215.9 468.9,213.0 471.3,210.9C473.7,208.9 476.4,206.8 478.5,206.5C480.6,206.2 482.4,208.1 483.8,209.2C485.3,210.2 485.6,211.4 487.4,212.7C489.2,214.0 492.5,216.0 494.6,216.8C496.7,217.6 497.9,217.1 499.9,217.6C502.0,218.1 504.7,218.7 507.1,219.9C509.5,221.1 511.9,223.6 514.3,224.7C516.6,225.8 519.2,226.2 521.4,226.5C523.6,226.8 524.9,226.6 527.3,226.8C529.8,227.0 533.9,227.4 536.3,227.7C538.7,228.0 539.6,227.8 541.6,228.6C543.7,229.3 546.1,231.5 548.8,232.1C551.5,232.7 555.1,231.5 557.7,232.1C560.4,232.7 562.7,234.5 564.9,235.7C567.1,236.9 569.1,239.0 571.2,239.3C573.2,239.6 575.2,237.8 577.4,237.5C579.7,237.2 582.2,238.1 584.6,237.5C587.0,236.9 589.4,235.0 591.7,233.9C594.1,232.9 596.5,232.1 598.9,231.2C601.3,230.3 603.7,229.4 606.0,228.6C608.4,227.7 611.1,226.2 613.2,225.9C615.3,225.5 616.1,226.5 618.6,226.4C621.0,226.4 624.8,225.7 627.9,225.5C630.9,225.3 633.9,225.9 636.8,225.2C639.8,224.4 643.1,222.4 645.8,221.1C648.5,219.8 650.5,218.8 652.9,217.5C655.3,216.2 657.7,214.2 660.1,213.0C662.5,211.8 664.9,211.4 667.2,210.3C669.6,209.3 672.0,207.7 674.4,206.8C676.8,205.9 679.2,205.3 681.6,205.0C683.9,204.7 686.3,204.6 688.7,205.0C691.1,205.4 693.5,206.9 695.9,207.3C698.3,207.7 701.1,207.6 703.0,207.7C705.0,207.7 705.7,208.3 707.5,207.7C709.3,207.1 711.5,205.1 713.8,204.1C716.0,203.0 718.5,202.1 720.9,201.4C723.3,200.6 725.7,200.4 728.1,199.6C730.5,198.9 733.1,197.5 735.2,196.9C737.3,196.3 738.5,196.4 740.6,196.0C742.7,195.7 745.7,195.2 747.7,194.8C749.8,194.4 751.3,193.9 753.1,193.7C754.9,193.5 756.7,193.6 758.5,193.3C760.3,193.1 761.8,192.7 763.8,192.5C765.9,192.2 769.2,191.6 771.0,191.6C772.8,191.5 773.1,191.7 774.6,192.1C776.1,192.5 778.2,193.7 779.9,193.7C781.7,193.7 783.2,192.5 785.3,192.1C787.4,191.7 790.1,191.6 792.5,191.6C794.9,191.6 796.9,192.0 799.6,192.1C802.3,192.2 805.5,192.7 808.6,192.1C811.6,191.5 814.8,190.0 817.9,188.7C820.9,187.4 823.9,185.1 826.8,184.2C829.8,183.3 833.1,184.1 835.8,183.3C838.5,182.6 840.5,181.0 842.9,179.8C845.3,178.6 847.7,176.7 850.1,176.2C852.5,175.7 854.6,176.3 857.2,176.5C859.9,176.8 863.5,176.6 866.2,177.6C868.9,178.6 871.0,180.9 873.3,182.5C875.7,184.0 877.8,185.0 880.5,186.9C883.2,188.9 886.8,192.0 889.4,194.1C892.1,196.2 894.5,197.8 896.6,199.4C898.7,201.1 900.2,203.5 902.3,203.9C904.4,204.4 906.8,203.0 909.1,202.1C911.4,201.2 913.6,200.5 916.3,198.6C919.0,196.6 922.2,193.6 925.2,190.5C928.2,187.4 931.2,183.0 934.2,179.8C937.1,176.5 940.1,174.1 943.1,170.8C946.1,167.5 949.1,163.8 952.1,160.1C955.0,156.4 958.0,152.6 961.0,148.5C964.0,144.3 967.0,139.2 969.9,135.0C972.9,130.9 976.6,126.5 978.9,123.4C981.2,120.4 981.6,118.7 983.6,116.7C985.6,114.7 988.4,112.0 990.8,111.4C993.2,110.7 995.2,111.9 997.9,112.6C1000.6,113.3 1004.2,113.9 1006.9,115.5C1009.6,117.0 1011.6,119.3 1014.0,122.1C1016.4,124.8 1018.8,128.9 1021.2,131.9C1023.6,134.9 1025.9,137.6 1028.3,140.0C1030.7,142.4 1033.1,144.4 1035.5,146.2C1037.9,148.0 1040.5,149.5 1042.6,150.7C1044.8,151.9 1046.6,151.8 1048.4,153.4C1050.2,155.0 1051.4,157.6 1053.4,160.5C1055.4,163.5 1058.1,167.4 1060.5,171.3C1062.9,175.2 1065.3,178.9 1067.7,183.8C1070.1,188.7 1072.5,194.7 1074.8,200.4C1077.2,206.2 1079.6,212.0 1082.0,218.3C1084.4,224.6 1086.8,231.7 1089.2,238.0C1091.5,244.2 1093.9,250.5 1096.3,255.9C1098.7,261.2 1101.1,266.2 1103.5,270.2C1105.8,274.1 1109.1,277.9 1110.3,279.5" fill="none" stroke="#b266ff" stroke-width="1.3" stroke-linejoin="round" stroke-linecap="round"/>
<path d="M9.7,218.7C11.0,216.6 15.0,210.8 17.9,206.5C20.8,202.2 23.9,196.5 26.8,193.1C29.8,189.7 32.8,188.1 35.8,185.9C38.8,183.8 41.7,181.5 44.7,180.0C47.7,178.6 50.7,177.9 53.7,177.4C56.6,176.8 60.4,176.6 62.6,176.5C64.8,176.3 65.6,176.1 67.1,176.6C68.6,177.2 69.3,177.4 71.6,179.7C73.8,182.0 78.3,187.4 80.5,190.4C82.7,193.4 83.5,195.5 85.0,197.6C86.5,199.7 87.2,200.3 89.4,202.9C91.7,205.6 96.0,210.5 98.4,213.7C100.8,216.8 102.0,218.7 103.8,221.7C105.5,224.7 107.3,228.4 109.1,231.6C110.9,234.7 112.7,238.2 114.5,240.5C116.3,242.8 118.1,244.1 119.9,245.5C121.6,246.9 123.1,248.0 125.2,248.9C127.3,249.8 130.0,250.8 132.4,250.9C134.8,251.0 136.9,249.9 139.5,249.4C142.2,249.0 145.8,248.1 148.5,248.0C151.2,247.9 153.5,249.1 155.6,248.9C157.7,248.8 158.6,248.5 161.0,247.1C163.4,245.7 167.0,243.1 169.9,240.5C172.9,237.9 175.9,234.2 178.9,231.6C181.9,228.9 184.5,226.5 187.8,224.4C191.2,222.3 195.6,220.7 198.9,218.9C202.3,217.1 205.5,215.0 207.9,213.6C210.3,212.1 211.0,211.2 213.3,210.5C215.5,209.8 218.6,210.6 221.3,209.4C224.0,208.3 226.8,205.3 229.4,203.7C231.9,202.1 234.1,201.4 236.5,199.8C238.9,198.1 241.0,195.8 243.7,193.9C246.4,192.0 249.6,190.0 252.6,188.5C255.6,187.0 259.2,186.1 261.6,184.9C263.9,183.7 264.5,182.7 266.9,181.4C269.3,180.0 273.2,178.1 275.9,176.9C278.6,175.7 280.9,175.1 283.0,174.2C285.1,173.2 286.3,172.0 288.4,171.2C290.5,170.3 293.5,169.5 295.5,168.8C297.6,168.2 298.7,167.3 300.9,167.4C303.1,167.5 306.6,168.2 309.0,169.4C311.3,170.5 312.7,172.6 315.2,174.2C317.8,175.7 321.2,176.9 324.2,178.7C327.1,180.5 330.1,182.5 333.1,184.9C336.1,187.3 339.1,189.5 342.1,193.0C345.0,196.4 348.0,201.3 351.0,205.5C354.0,209.7 357.0,214.3 359.9,218.0C362.9,221.8 365.9,224.3 368.9,227.9C371.9,231.4 374.6,235.5 377.8,239.5C381.1,243.5 386.1,249.3 388.6,252.0C391.0,254.7 390.4,254.2 392.6,255.7C394.8,257.2 398.6,259.2 401.6,261.0C404.5,262.8 407.5,265.1 410.5,266.4C413.5,267.7 416.8,268.0 419.4,268.7C422.1,269.4 424.8,270.2 426.6,270.5C428.4,270.9 428.7,271.4 430.2,270.9C431.7,270.3 433.5,269.4 435.5,267.3C437.6,265.2 440.0,261.0 442.7,258.3C445.4,255.7 449.0,253.0 451.6,251.2C454.3,249.3 456.4,248.7 458.8,247.3C461.2,245.8 463.3,244.0 466.0,242.2C468.6,240.5 471.6,238.7 474.9,236.9C478.2,235.1 482.4,233.3 485.6,231.5C488.9,229.7 491.9,227.8 494.6,226.1C497.3,224.5 499.4,222.9 501.7,221.7C504.1,220.5 506.5,219.7 508.9,219.0C511.3,218.2 513.8,217.6 516.0,217.2C518.3,216.8 520.4,216.2 522.3,216.3C524.2,216.4 525.6,217.1 527.3,217.8C529.1,218.5 530.3,219.6 532.7,220.5C535.1,221.4 538.4,222.3 541.6,223.2C544.9,224.1 548.8,224.7 552.4,225.9C556.0,227.1 560.1,229.3 563.1,230.3C566.1,231.4 567.3,231.8 570.3,232.1C573.2,232.4 576.2,232.1 581.0,232.1C585.8,232.1 594.4,232.2 598.9,232.1C603.4,232.1 603.0,232.2 607.8,231.9C612.7,231.7 623.1,231.3 627.9,230.9C632.7,230.5 634.4,229.9 636.8,229.5C639.2,229.0 639.8,229.2 642.2,228.2C644.6,227.3 648.3,225.2 651.1,223.8C654.0,222.3 657.1,220.0 659.2,219.3C661.3,218.5 661.4,219.6 663.7,219.3C665.9,219.0 669.6,218.2 672.6,217.5C675.6,216.8 678.9,215.9 681.6,215.3C684.2,214.8 686.3,214.2 688.7,213.9C691.1,213.6 693.8,213.8 695.9,213.4C698.0,212.9 698.8,212.2 701.2,211.2C703.6,210.3 707.5,208.7 710.2,207.7C712.9,206.6 714.7,205.8 717.3,205.0C720.0,204.1 723.3,203.2 726.3,202.6C729.3,202.1 732.5,201.6 735.2,201.4C737.9,201.2 740.3,201.4 742.4,201.4C744.5,201.4 745.7,201.6 747.7,201.4C749.8,201.2 752.8,200.7 754.9,200.1C757.0,199.5 758.2,198.4 760.3,197.8C762.4,197.3 765.0,197.3 767.4,196.9C769.8,196.5 772.2,195.8 774.6,195.5C777.0,195.2 779.4,195.4 781.7,195.1C784.1,194.8 786.5,194.2 788.9,193.7C791.3,193.2 793.7,192.2 796.0,192.1C798.4,192.0 801.1,192.9 803.2,193.0C805.3,193.0 806.1,192.9 808.6,192.5C811.0,192.0 815.4,190.9 817.9,190.5C820.3,190.1 821.2,190.6 823.3,190.1C825.3,189.7 828.0,188.3 830.4,187.8C832.8,187.3 834.9,187.9 837.6,187.3C840.3,186.7 843.5,184.9 846.5,184.2C849.5,183.6 852.8,183.5 855.5,183.3C858.1,183.2 860.5,183.5 862.6,183.3C864.7,183.2 865.9,182.5 868.0,182.5C870.1,182.5 872.5,182.7 875.1,183.3C877.8,183.9 881.1,185.5 884.1,186.0C887.1,186.6 889.9,185.8 893.0,186.6C896.2,187.3 899.9,190.0 902.9,190.5C905.8,191.0 908.1,189.9 910.9,189.6C913.7,189.3 916.7,189.0 919.9,188.7C923.0,188.4 926.8,188.1 929.9,187.9C933.1,187.7 936.1,187.8 938.9,187.4C941.7,186.9 944.6,186.4 946.9,185.2C949.3,184.0 950.7,182.4 953.2,180.2C955.7,178.0 959.2,175.5 962.1,172.2C965.1,168.9 968.1,164.3 971.1,160.5C974.1,156.8 976.8,153.4 980.0,149.8C983.3,146.2 987.5,141.8 990.8,139.1C994.0,136.4 996.4,135.4 999.7,133.7C1003.0,132.1 1007.2,130.2 1010.4,129.2C1013.7,128.3 1016.7,127.9 1019.4,127.8C1022.1,127.7 1024.2,128.7 1026.5,128.7C1028.9,128.7 1031.6,127.4 1033.7,127.8C1035.8,128.2 1036.7,130.0 1039.1,131.0C1041.5,132.0 1045.0,131.8 1048.0,133.7C1051.0,135.6 1054.0,139.1 1057.0,142.7C1059.9,146.2 1062.9,150.7 1065.9,155.2C1068.9,159.7 1071.9,164.4 1074.8,169.5C1077.8,174.6 1081.1,180.4 1083.8,185.6C1086.5,190.7 1088.3,195.3 1090.9,200.4C1093.6,205.6 1096.7,211.6 1099.9,216.5C1103.1,221.4 1108.5,227.7 1110.3,229.9" fill="none" stroke="#2585b8" stroke-width="1.3" stroke-linejoin="round" stroke-linecap="round"/>
<text x="10" y="21.5" font-size="15.3" text-rendering="geometricPrecision" fill="#999">6.03</text>
<text x="10" y="103.0" font-size="15.3" text-rendering="geometricPrecision" fill="#999">5.11</text>
<text x="10" y="194.2" font-size="15.3" text-rendering="geometricPrecision" fill="#999">4.19</text>
<text x="10" y="285.5" font-size="15.3" text-rendering="geometricPrecision" fill="#999">3.27</text>
<text x="10" y="366.5" font-size="15.3" text-rendering="geometricPrecision" fill="#999">2.35</text>
</svg>
</body>
</html>
